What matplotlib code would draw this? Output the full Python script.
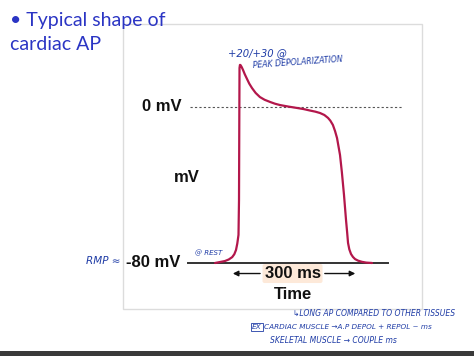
import matplotlib
matplotlib.use('Agg')
import matplotlib.pyplot as plt
from matplotlib.patches import Rectangle

# action potential trace (ms, mV)
ap_time = [-56, -33, -24, -16, -11, -7, -4, -1.2, 0, 0.7, 1.2, 2.2, 3.5, 6, 9.4, 13.5,
           18.7, 24, 30.5, 39, 49, 60, 72.6, 84, 96, 116, 136, 152, 166, 179, 190, 200,
           208.6, 214, 220, 225, 229.7, 233, 236.7, 241, 246, 250.8, 253.5, 255.5,
           258.5, 262.5, 267, 272, 279, 288, 298, 311.7]
ap_mv = [-80, -79, -78.2, -77, -75.5, -73.3, -70, -65.6, -47.7, -6.7, 20, 21.6, 21.5,
         20.6, 19, 16.8, 14.4, 12, 9.7, 7.2, 5.1, 3.7, 2.6, 1.7, 1.0, 0.2, -0.5, -1.1,
         -1.8, -2.4, -3.1, -4.1, -5.6, -7, -9.2, -12.3, -15.9, -20, -24.6, -33.3, -45,
         -58, -64.5, -69.7, -73, -75.4, -76.9, -78, -78.8, -79.4, -79.8, -80]

rmp = -80
zero = 0
duration_ms = 300

RED = '#b3174b'
BLUE = '#1f3ca6'

fig = plt.figure(figsize=(4.74, 3.56), dpi=100)
ax = fig.add_axes([0, 0, 1, 1])
ax.set_xlim(-560.1, 550.7)
ax.set_ylim(-127.7, 54.87)
ax.axis('off')

# slide frame (behind the text) and bottom bar
ax.add_patch(Rectangle((0.2595, 0.132), 0.631, 0.8006, transform=fig.transFigure,
                       fill=False, edgecolor='#dcdcdc', lw=1.0, zorder=0))
ax.add_patch(Rectangle((0, 0), 1, 0.015, transform=fig.transFigure,
                       facecolor='#3a3a3a', edgecolor='none', zorder=0))

# reference lines
ax.plot([-115, 382], [zero, zero], color='#555555', lw=0.8, ls=(0, (2, 2)))
ax.plot([-119.5, 349], [rmp, rmp], color='#333333', lw=1.4)

# the AP
ax.plot(ap_time, ap_mv, color=RED, lw=1.6, solid_capstyle='round', solid_joinstyle='round')

# axis-like labels
lab = dict(fontsize=12, fontweight='bold', family='Liberation Sans', color='#111111', va='center')
ax.text(-133.6, zero, '0 mV', ha='right', **lab)
ax.text(-123, -36.3, 'mV', ha='center', **lab)
ax.text(-138, rmp, '-80 mV', ha='right', **lab)
ax.text(125.4, -85.4, '%d ms' % duration_ms, ha='center',
        bbox=dict(boxstyle='round,pad=0.12', facecolor='#fde9d9', edgecolor='none'), **lab)
ax.text(127.7, -96.4, 'Time', ha='center', **lab)

arr = dict(arrowstyle='-|>', color='#111111', lw=1.0, mutation_scale=8)
ax.annotate('', xy=(-21, -85.4), xytext=(56, -85.4), arrowprops=arr)
ax.annotate('', xy=(279, -85.4), xytext=(194.5, -85.4), arrowprops=arr)

# title
ttl = dict(fontsize=14, family='Lato', color='#2b35c4', va='center', ha='left', zorder=3)
ax.text(-536.7, 44.6, '\u2022 Typical shape of', **ttl)
ax.text(-536.7, 31.8, 'cardiac AP', **ttl)

# handwritten notes
hw = dict(color=BLUE, family='DejaVu Sans', style='italic', va='center', ha='left')
ax.text(-25.8, 27.7, '+20/+30 @', fontsize=7.2, **hw)
ax.text(32.8, 23, 'PEAK DEPOLARIZATION', fontsize=5.6, rotation=4, **hw)
ax.text(-358.6, -79, 'RMP \u2248', fontsize=7.5, **hw)
ax.text(-103, -74.9, '@ REST', fontsize=5, **hw)
ax.text(126.6, -105.6, '\u21b3LONG AP COMPARED TO OTHER TISSUES', fontsize=5.5, **hw)
ax.text(30.5, -112.8, 'EX', fontsize=5.3,
        bbox=dict(boxstyle='square,pad=0.15', facecolor='none', edgecolor=BLUE, lw=0.6), **hw)
ax.text(59, -112.8, 'CARDIAC MUSCLE \u2192A.P DEPOL + REPOL ~ ms', fontsize=5.2, **hw)
ax.text(72.7, -120, 'SKELETAL MUSCLE \u2192 COUPLE ms', fontsize=5.5, **hw)

fig.savefig('out.png', dpi=100)
